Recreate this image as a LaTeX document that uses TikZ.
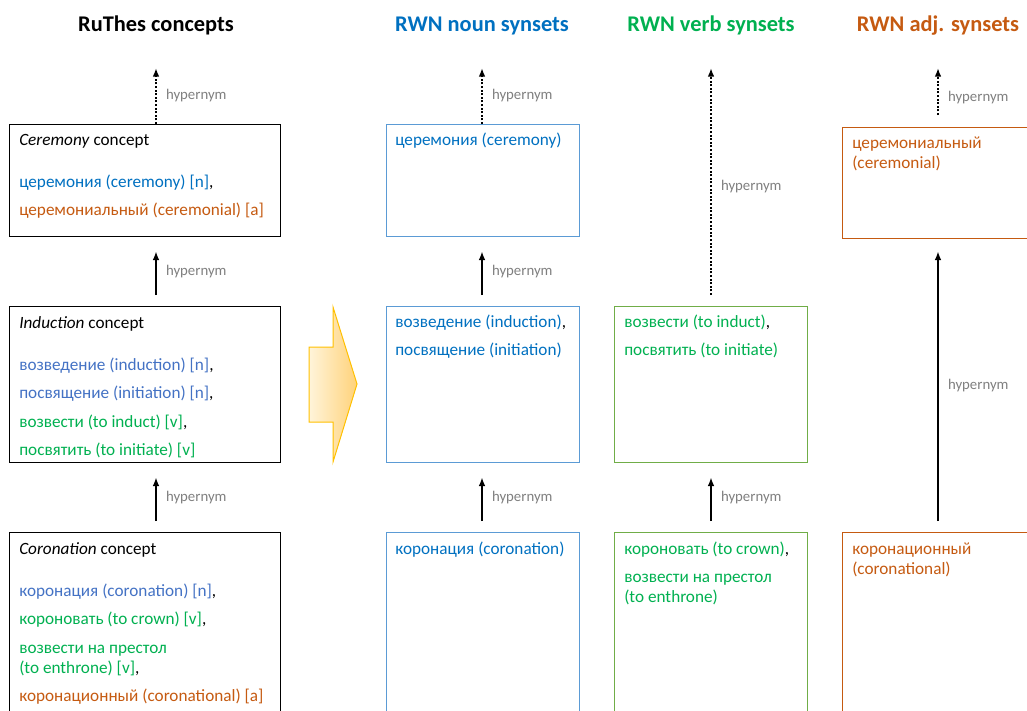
\documentclass[tikz,border=0pt]{standalone}
\usepackage{fontspec}
\setmainfont{Carlito}
\usetikzlibrary{arrows.meta}
\definecolor{nblue}{HTML}{0070C0}
\definecolor{lblue}{HTML}{4472C4}
\definecolor{vgreen}{HTML}{00B050}
\definecolor{aorange}{HTML}{C55A11}
\definecolor{nline}{HTML}{5B9BD5}
\definecolor{vline}{HTML}{70AD47}
\definecolor{hgray}{HTML}{7F7F7F}
\definecolor{ylight}{HTML}{FFF4DA}
\definecolor{ydark}{HTML}{FFD27A}
\definecolor{yedge}{HTML}{FFC000}

\begin{document}
\begin{tikzpicture}[x=0.75pt,y=-0.75pt,
	ttl/.style={anchor=base,inner sep=0,font=\fontsize{16.8}{20}\selectfont\bfseries},
	txt/.style={anchor=north west,inner sep=0,align=left,font=\fontsize{12.9}{15}\selectfont},
	cbox/.style={draw,line width=1pt,anchor=north west,inner sep=0,minimum width=144.75pt},
	hyp/.style={-{Latex[length=6.5pt,width=5pt]},line width=1.5pt},
	dots/.style={dash pattern=on 1.5pt off 1.2pt},
	lbl/.style={right=6.75pt,inner sep=0,text=hgray,font=\fontsize{11.1}{13}\selectfont}]
	\useasboundingbox (0,0) rectangle (1027,710);
	\clip (0,0) rectangle (1027,710);

	\node[ttl]		(rt) at (156,32) {RuThes concepts};
	\node[ttl,text=nblue]	(nt) at (482,32) {RWN noun synsets};
	\node[ttl,text=vgreen]	(vt) at (711,32) {RWN verb synsets};
	\node[ttl,text=aorange]	(jt) at (938,32) {RWN adj. synsets};

	\coordinate (rtop) at (156,68);
	\coordinate (ntop) at (482,68);
	\coordinate (vtop) at (711,68);
	\coordinate (jtop) at (938,68);

	\node[cbox,minimum width=203.25pt,minimum height=84pt]	(rc) at (9,124) {};
	\node[cbox,minimum width=203.25pt,minimum height=117pt]	(ri) at (9,306) {};
	\node[cbox,minimum width=203.25pt,minimum height=150pt]	(rk) at (9,532) {};
	\node[cbox,draw=nline,minimum height=84pt]	(nc) at (386,124) {};
	\node[cbox,draw=nline,minimum height=117pt]	(ni) at (386,306) {};
	\node[cbox,draw=nline,minimum height=150pt]	(nk) at (386,532) {};
	\node[cbox,draw=vline,minimum height=117pt]	(vi) at (614,306) {};
	\node[cbox,draw=vline,minimum height=150pt]	(vk) at (614,532) {};
	\node[cbox,draw=aorange,minimum height=83.25pt]	(jc) at (842,127) {};
	\node[cbox,draw=aorange,minimum height=150pt]	(jk) at (842,532) {};

	\node[txt] (rct) at (19,131) {\strut\textit{Ceremony} concept\\[16.5pt]
		\textcolor{nblue}{церемония (ceremony) [n]},\\[6.4pt]
		\textcolor{aorange}{церемониальный (ceremonial) [a]}};
	\node[txt] (rit) at (19,314) {\strut\textit{Induction} concept\\[16.5pt]
		\textcolor{lblue}{возведение (induction) [n]},\\[6.4pt]
		\textcolor{lblue}{посвящение (initiation) [n]},\\[6.4pt]
		\textcolor{vgreen}{возвести (to induct) [v]},\\[6.4pt]
		\textcolor{vgreen}{посвятить (to initiate) [v]}};
	\node[txt] (rkt) at (19,540) {\strut\textit{Coronation} concept\\[16.5pt]
		\textcolor{lblue}{коронация (coronation) [n]},\\[6.4pt]
		\textcolor{vgreen}{короновать (to crown) [v]},\\[6.4pt]
		\textcolor{vgreen}{возвести на престол}\\
		\textcolor{vgreen}{(to enthrone) [v]},\\[6.4pt]
		\textcolor{aorange}{коронационный (coronational) [a]}};

	\node[txt,text=nblue]	(nct) at (395,131) {\strut церемония (ceremony)};
	\node[txt,text=nblue]	(nit) at (395,313) {\strut возведение (induction)\textcolor{black}{,}\\[6.4pt]посвящение (initiation)};
	\node[txt,text=nblue]	(nkt) at (395,540) {\strut коронация (coronation)};
	\node[txt,text=vgreen]	(vit) at (624,313) {\strut возвести (to induct)\textcolor{black}{,}\\[6.4pt]посвятить (to initiate)};
	\node[txt,text=vgreen]	(vkt) at (624,540) {\strut короновать (to crown)\textcolor{black}{,}\\[6.4pt]возвести на престол\\(to enthrone)};
	\node[txt,text=aorange]	(jct) at (852,134) {\strut церемониальный\\(ceremonial)};
	\node[txt,text=aorange]	(jkt) at (852,540) {\strut коронационный\\(coronational)};

	\draw[hyp,dots]	(rc.north -| rt) -- node[lbl] {hypernym} (rtop);
	\draw[hyp,shorten <=8.25pt,shorten >=10.5pt]	(ri.north -| rt) -- node[lbl] {hypernym} (rc.south -| rt);
	\draw[hyp,shorten <=8.25pt,shorten >=10.5pt]	(rk.north -| rt) -- node[lbl] {hypernym} (ri.south -| rt);
	\draw[hyp,dots]	(nc.north -| nt) -- node[lbl] {hypernym} (ntop);
	\draw[hyp,shorten <=8.25pt,shorten >=10.5pt]	(ni.north -| nt) -- node[lbl] {hypernym} (nc.south -| nt);
	\draw[hyp,shorten <=8.25pt,shorten >=10.5pt]	(nk.north -| nt) -- node[lbl] {hypernym} (ni.south -| nt);
	\draw[hyp,dots,shorten <=8.25pt]	(vi.north -| vt) -- node[lbl] {hypernym} (vtop);
	\draw[hyp,shorten <=8.25pt,shorten >=10.5pt]	(vk.north -| vt) -- node[lbl] {hypernym} (vi.south -| vt);
	\draw[hyp,dots,shorten <=9pt]	(jc.north -| jt) -- node[lbl] {hypernym} (jtop);
	\draw[hyp,shorten <=8.25pt,shorten >=9pt]	(jk.north -| jt) -- node[lbl] {hypernym} (jc.south -| jt);

	\shade[left color=ylight,right color=ydark,draw=yedge,line width=0.75pt]
		(309,347) -- (333,347) -- (333,307) -- (357,384) -- (333,462) -- (333,422) -- (309,422) -- cycle;
\end{tikzpicture}
\end{document}
